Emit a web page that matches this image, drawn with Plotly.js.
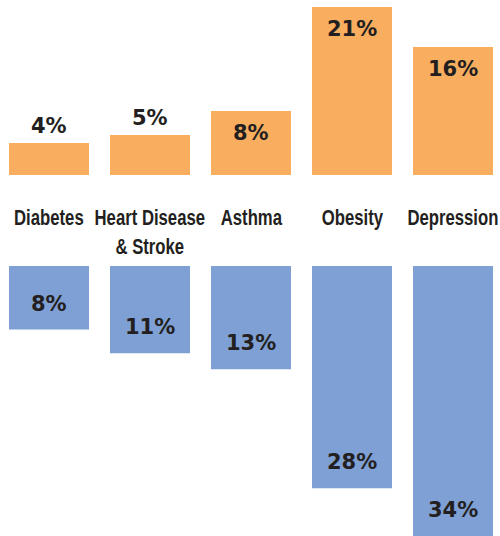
<!DOCTYPE html>
<html>
<head>
<meta charset="utf-8">
<script src="https://cdn.plot.ly/plotly-3.0.1.min.js"></script>
<style>html,body{margin:0;padding:0;background:#fff;}#chart{width:500px;height:536px;}</style>
</head>
<body>
<div id="chart"></div>
<script>
const categories = ["Diabetes", "Heart Disease<br>& Stroke", "Asthma", "Obesity", "Depression"];
const topValues = [4, 5, 8, 21, 16];
const bottomValues = [8, 11, 13, 28, 34];
const topLabels = ["4%", "5%", "8%", "21%", "16%"];
const bottomLabels = ["8%", "11%", "13%", "28%", "34%"];

const W = 500, H = 536;
const pxPerUnit = 8;
const topBase = 175, bottomBase = 266;
const xs = categories.map((_, i) => i);

const orange = "#F8AD5F", blue = "#7FA0D4", dark = "#231F20";
const valueFont = {family: "DejaVu Sans", size: 21, color: dark, weight: 700};
const catFont = {family: "Liberation Sans, Arial, sans-serif", size: 22, color: dark, weight: 700};

const traces = [
  {type: "bar", x: xs, y: topValues, marker: {color: orange}, xaxis: "x", yaxis: "y", hoverinfo: "none"},
  {type: "bar", x: xs, y: bottomValues, marker: {color: blue}, xaxis: "x", yaxis: "y2", hoverinfo: "none"}
];

const annotations = [];
topValues.forEach((v, i) => {
  const inside = v * pxPerUnit >= 50;
  annotations.push({x: i, y: v, xref: "x", yref: "y", text: "<b>" + topLabels[i] + "</b>", showarrow: false,
    font: valueFont, yanchor: "middle", yshift: inside ? -22 : 17});
});
bottomValues.forEach((v, i) => {
  annotations.push({x: i, y: v, xref: "x", yref: "y2", text: "<b>" + bottomLabels[i] + "</b>", showarrow: false,
    font: valueFont, yanchor: "middle", yshift: 26});
});
categories.forEach((c, i) => {
  annotations.push({x: i, y: 1 - 203 / H, xref: "x", yref: "paper", text: "<b>" + c + "</b>", showarrow: false,
    font: catFont, yanchor: "top", xanchor: "center", align: "center"});
});

const pitch = 101, firstCenter = 49;
const bottomMax = Math.max(...bottomValues);
const layout = {
  width: W, height: H,
  margin: {l: 0, r: 0, t: 0, b: 0, pad: 0},
  paper_bgcolor: "#fff", plot_bgcolor: "#fff",
  showlegend: false,
  bargap: 1 - 80 / pitch,
  xaxis: {range: [(0 - firstCenter) / pitch, (W - firstCenter) / pitch], visible: false, showgrid: false, zeroline: false, fixedrange: true},
  yaxis: {domain: [1 - topBase / H, 1], range: [0, topBase / pxPerUnit], visible: false, showgrid: false, zeroline: false},
  yaxis2: {domain: [0, 1 - bottomBase / H], range: [bottomMax, 0], visible: false, showgrid: false, zeroline: false, anchor: "x"},
  annotations: annotations
};

Plotly.newPlot("chart", traces, layout, {displayModeBar: false, staticPlot: true}).then(gd => {
  // condense the category labels horizontally (narrow bold face)
  const firstCat = topValues.length + bottomValues.length;
  document.querySelectorAll("#chart g.annotation").forEach(g => {
    const idx = +g.getAttribute("data-index");
    if (idx >= firstCat) {
      const t = g.querySelector("text.annotation-text");
      if (t) {
        t.style.transformBox = "fill-box";
        t.style.transformOrigin = "center";
        t.style.transform = "scaleX(0.76)";
      }
    }
  });
});
</script>
</body>
</html>
